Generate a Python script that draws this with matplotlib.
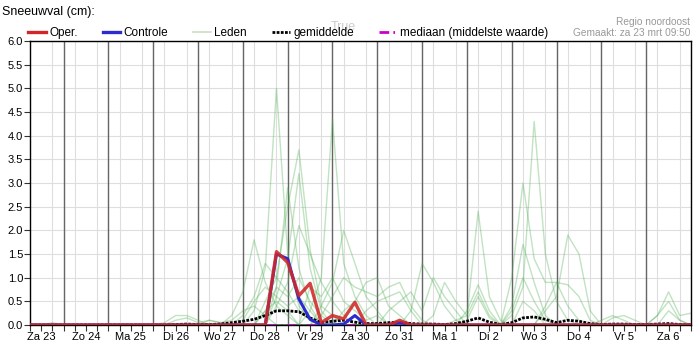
import numpy as np
import matplotlib
matplotlib.use("Agg")
import matplotlib.pyplot as plt
from matplotlib.lines import Line2D
from matplotlib.ticker import MultipleLocator

plt.rcParams['font.family'] = ['Liberation Sans', 'DejaVu Sans']

# tijdas: uren vanaf za 23 00:00, stappen van 6 uur
hours = np.arange(6, 361, 6)
day_labels = ["Za 23", "Zo 24", "Ma 25", "Di 26", "Wo 27", "Do 28", "Vr 29", "Za 30",
              "Zo 31", "Ma 1", "Di 2", "Wo 3", "Do 4", "Vr 5", "Za 6"]

oper = [0, 0, 0, 0, 0, 0, 0, 0, 0, 0,  0, 0, 0, 0, 0, 0, 0, 0, 0, 0,
        0, 0, 1.55, 1.32, .62, .88, .05, .2, .13, .48,  0, 0, 0, .1, 0, 0, 0, 0, 0, 0,
        0, 0, 0, 0, 0, 0, 0, 0, 0, 0,  0, 0, 0, 0, 0, 0, 0, 0, 0, 0]
controle = [0, 0, 0, 0, 0, 0, 0, 0, 0, 0,  0, 0, 0, 0, 0, 0, 0, 0, 0, 0,
            0, 0, 1.5, 1.4, .55, .12, 0, 0, .02, .2,  0, 0, 0, .05, 0, 0, 0, 0, 0, 0,
            0, 0, 0, 0, 0, 0, 0, 0, 0, 0,  0, 0, 0, 0, 0, 0, 0, 0, 0, 0]
gemiddelde = [0, 0, 0, 0, 0, 0, 0, 0, 0, 0,  0, 0, 0, .01, .02, .01, .01, .02, .05, .08,
              .12, .2, .3, .3, .28, .15, .05, .08, .1, .06,  .03, .03, .05, .06, .03, .02, .02, .01, .03, .08,
              .15, .06, .01, .05, .15, .17, .12, .05, .1, .08,  .03, .01, .02, .02, .01, .01, .02, .03, .01, 0]
mediaan = [0] * 60

Z = [0] * 10
leden = [
    Z + Z + [.3, 1.2, 5.0, 1.5, .4, .1, 0, 0, 0, 0] + Z + Z + Z,
    Z + Z + [0, .5, 1.0, 2.5, 3.7, 1.6, .4, .2, 0, 0] + Z + Z + Z,
    Z + Z + [0, 0, .6, 1.4, 3.2, 1.2, .3, 0, 0, 0] + Z + Z + Z,
    Z + Z + [0, 0, 0, 0, 0, .3, 1.0, 4.35, 1.3, .6] + [.2, 0, 0, 0, 0, 0, 0, 0, 0, 0] + Z + Z,
    Z + [0, 0, 0, 0, 0, 0, 0, 0, .2, .7] + [1.8, .9, .4, .2, 0, 0, 0, 0, 0, 0] + Z + Z + Z,
    Z + Z + [0, 0, .4, .9, 2.1, 1.5, .9, .5, .2, 0] + Z + Z + Z,
    Z + Z + [0, 0, 0, 0, 0, 0, .4, .9, 2.0, 1.3] + [.6, .3, 0, 0, 0, 0, 0, 0, 0, 0] + Z + Z,
    Z + [0, 0, 0, 0, 0, 0, 0, 0, 0, .2] + [.6, 1.3, 1.0, .7, .3, .1, 0, 0, 0, 0] + Z + Z + Z,
    Z + Z + [0, .3, .8, .6, 1.0, .5, .2, 0, 0, 0] + [.3, .5, .6, .7, .3, 0, 0, 0, 0, 0] + Z + Z,
    Z + Z + [0, 0, 0, 0, 0, 0, .2, .6, 1.0, .8] + [.7, .6, .8, .9, .4, .1, 0, 0, 0, 0] + Z + Z,
    Z + [0, 0, .05, .2, .2, .1, 0, 0, 0, 0] + [0, .3, .5, .3, 0, 0, 0, 0, 0, 0]
      + [0, 0, 0, 0, .3, 1.3, .9, .4, .1, 0] + Z + Z,
    Z + Z + Z + [0, 0, 0, 0, 0, 0, .2, .9, .5, .2] + [2.4, .6, .1, 0, 0, 0, 0, 0, 0, 0] + Z,
    Z + Z + Z + [0, 0, 0, 0, 0, 0, 0, 0, 0, .3] + [.85, .3, 0, 0, 0, 0, 0, 0, 0, 0] + Z,
    Z + Z + Z + [0, 0, 0, 0, 0, 0, 0, 0, .1, .2] + [.7, .2, 0, .3, 1.0, .5, .1, 0, 0, 0] + Z,
    Z + Z + Z + Z + [0, 0, 0, .4, 1.7, .9, .2, 0, 0, 0] + Z,
    Z + Z + Z + Z + [0, 0, 0, .2, .8, 4.3, 1.5, .5, .1, 0] + Z,
    Z + Z + Z + Z + [0, 0, 0, 1.0, 3.0, 1.4, .9, .9, .4, .1] + Z,
    Z + Z + Z + Z + [0, 0, 0, 0, 0, 0, .3, .6, 1.9, 1.5] + [.3, 0, 0, 0, 0, 0, 0, 0, 0, 0],
    Z + Z + Z + Z + [0, 0, 0, 0, 0, 0, .4, .9, .85, .6] + [.1, 0, 0, 0, 0, 0, .2, .7, .2, .25],
    Z + Z + Z + Z + Z + [0, 0, .15, .2, .1, 0, .2, .5, .1, 0],
    [0, 0, .05, 0, 0, 0, 0, 0, 0, 0] + [0, 0, 0, .1, .15, .05, .1, .05, .1, .3]
      + [.4, .2, 0, 0, 0, 0, 0, 0, 0, 0] + Z + Z + Z,
    Z + Z + [0, 0, 0, 0, 0, 0, 0, 0, .3, .5] + [.9, 1.0, .4, .2, 0, 0, 0, 0, 0, 0] + Z + Z,
    Z + Z + Z + [0, 0, .3, .5, .7, .3, 1.0, .6, .3, 0] + Z + Z,
    Z + Z + [0, 0, 0, 0, 0, .8, .6, 1.0, .5, .3] + [.1, .2, 0, 0, 0, 0, 0, 0, 0, 0] + Z + Z,
    Z + Z + [0, 0, .8, 2.9, 1.2, .4, 0, 0, 0, 0] + Z + Z + Z,
    Z + Z + Z + [0, 0, 0, 0, 0, 0, 0, 0, 0, .1] + [.6, .15, 0, 0, .5, .3, 0, 0, 0, 0]
      + [0, .1, .2, .1, 0, 0, 0, .3, .1, 0],
    Z + [0, 0, 0, 0, 0, 0, .1, .05, 0, .1] + [.5, .8, .6, .4, .6, .3, 0, 0, 0, 0] + Z + Z + Z,
]

fig = plt.figure(figsize=(6.95, 3.47), dpi=100)
ax = fig.add_axes([30 / 695, 1 - 325 / 347, 661 / 695, 284 / 347])

for lid in leden:
    ax.plot(hours, lid, color='#4caf50', lw=1, alpha=0.35, zorder=2)
ax.plot(hours, mediaan, color='#cc00cc', lw=2, dashes=(3.5, 1.5, 0.6, 1.5), zorder=3)
ax.plot(hours, gemiddelde, color='black', lw=2, dashes=(1, 0.5), zorder=4)
ax.plot(hours, controle, color='#2b2bd0', lw=2.2, zorder=5)
ax.plot(hours, oper, color='#d02828', lw=2.4, alpha=0.88, zorder=6)

ax.set_xlim(6, 360)
ax.set_ylim(0, 6)

# rasterlijnen
ax.xaxis.set_minor_locator(MultipleLocator(6))
yticks = np.arange(0, 6.01, 0.5)
ax.set_yticks(yticks)
ax.set_yticklabels([f"{v:.1f}" for v in yticks])
ax.grid(which='minor', axis='x', color='#dedede', lw=0.8)
ax.grid(which='major', axis='y', color='#dedede', lw=0.8)
for d in range(24, 360, 24):
    ax.axvline(d, color='#666666', lw=1, zorder=1)
ax.set_axisbelow(True)

ax.set_xticks(np.arange(12, 360, 24))
ax.set_xticklabels(day_labels)
ax.tick_params(which='both', direction='out', length=4, width=0.8, labelsize=8, pad=1, color='#333333')
for s in ax.spines.values():
    s.set_color('black')
    s.set_linewidth(1)

fig.text(2 / 695, 1 - 12 / 347, "Sneeuwval (cm):", fontsize=9, va='center', ha='left')
fig.text(690 / 695, 1 - 22 / 347, "Regio noordoost", fontsize=7.3, color='#999999', va='center', ha='right')
fig.text(690 / 695, 1 - 33 / 347, "Gemaakt: za 23 mrt 09:50", fontsize=7.3, color='#999999', va='center', ha='right')
fig.text(343 / 695, 1 - 27 / 347, "True", fontsize=9, color='#aaaaaa', alpha=0.6, va='center', ha='center')

handles = [
    Line2D([], [], color='#d02828', lw=2.4),
    Line2D([], [], color='#2b2bd0', lw=2.4),
    Line2D([], [], color='#c8e0c0', lw=1.2),
    Line2D([], [], color='black', lw=2, dashes=(1, 0.5)),
    Line2D([], [], color='#cc00cc', lw=2, dashes=(3.5, 1.5, 0.6, 1.5)),
]
labels = ["Oper.", "Controle", "Leden", "gemiddelde", "mediaan (middelste waarde)"]
fig.legend(handles, labels, ncol=5, loc='center left', bbox_to_anchor=(28 / 695, 1 - 33 / 347),
           frameon=False, fontsize=8.5, handlelength=1.5, handletextpad=0.3, columnspacing=2.1,
           borderpad=0, borderaxespad=0)

fig.savefig("out.png", dpi=100)
